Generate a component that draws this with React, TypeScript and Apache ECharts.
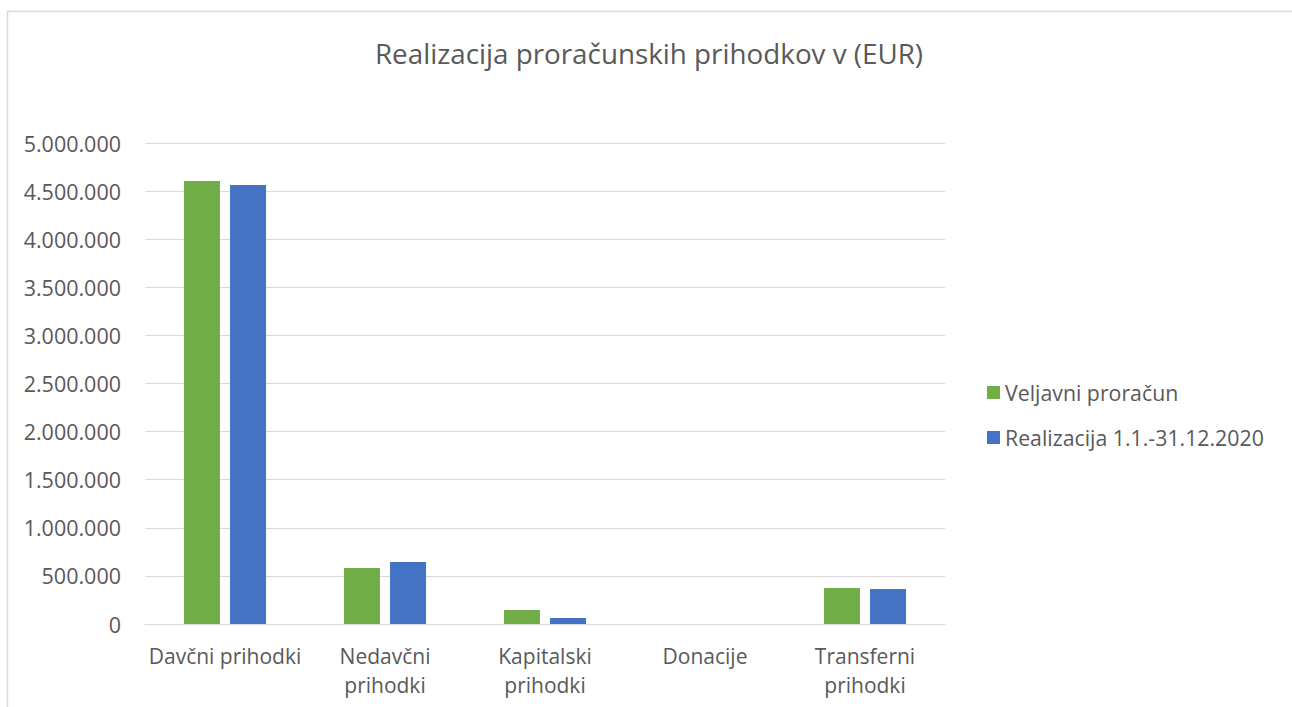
import React, { useEffect, useRef } from "react";
import * as echarts from "echarts";

const categories = ["Davčni prihodki", "Nedavčni\nprihodki", "Kapitalski\nprihodki", "Donacije", "Transferni\nprihodki"];
const veljavni = [4605000, 582000, 145000, 0, 374000];
const realizacija = [4563000, 645000, 62000, 0, 365000];
const seriesNames = ["Veljavni proračun", "Realizacija 1.1.-31.12.2020"];
const titleText = "Realizacija proračunskih prihodkov v (EUR)";

const FONT = "Open Sans";

export default function App() {
  const ref = useRef<HTMLDivElement>(null);
  useEffect(() => {
    const chart = echarts.init(ref.current!, null, { renderer: "svg" });
    chart.setOption({
      animation: false,
      backgroundColor: "#ffffff",
      title: {
        text: titleText,
        left: 644,
        top: 34,
        textAlign: "center",
        textStyle: { fontFamily: FONT, fontSize: 27.8, fontWeight: "normal", color: "#595959" },
      },
      graphic: [
        {
          type: "rect",
          shape: { x: 7.5, y: 11.5, width: 1300, height: 720 },
          style: { fill: "none", stroke: "#d9d9d9", lineWidth: 1.5 },
          silent: true,
        },
      ],
      legend: {
        orient: "vertical",
        left: 982,
        top: 377,
        itemWidth: 13,
        itemHeight: 13,
        itemGap: 24,
        icon: "rect",
        textStyle: { fontFamily: FONT, fontSize: 21.3, color: "#595959", padding: [0, 0, 0, 0] },
        data: seriesNames,
      },
      grid: { left: 145, right: 347, top: 143, bottom: 83, containLabel: false },
      xAxis: {
        type: "category",
        data: categories,
        axisLine: { lineStyle: { color: "#d9d9d9", width: 1 } },
        axisTick: { show: false },
        axisLabel: {
          fontFamily: FONT,
          fontSize: 21,
          color: "#595959",
          lineHeight: 29,
          margin: 17,
          interval: 0,
        },
      },
      yAxis: {
        type: "value",
        min: 0,
        max: 5000000,
        interval: 500000,
        axisLine: { show: false },
        axisTick: { show: false },
        splitLine: { lineStyle: { color: "#d9d9d9", width: 1 } },
        axisLabel: {
          fontFamily: FONT,
          fontSize: 21.5,
          color: "#595959",
          margin: 24,
          formatter: (v: number) => v.toString().replace(/\B(?=(\d{3})+(?!\d))/g, "."),
        },
      },
      series: [
        {
          name: seriesNames[0],
          type: "bar",
          data: veljavni,
          barWidth: 36,
          barGap: "28%",
          itemStyle: { color: "#70ad47" },
        },
        {
          name: seriesNames[1],
          type: "bar",
          data: realizacija,
          barWidth: 36,
          itemStyle: { color: "#4472c4" },
        },
      ],
    });
    return () => chart.dispose();
  }, []);
  return (
    <div
      ref={ref}
      style={{ position: "absolute", left: 0, top: 0, width: 1292, height: 707 }}
    />
  );
}
